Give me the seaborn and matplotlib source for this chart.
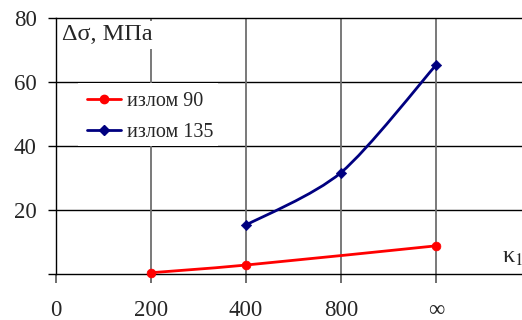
import numpy as np
import matplotlib
matplotlib.use("Agg")
import matplotlib.pyplot as plt
from matplotlib.path import Path
from matplotlib.patches import PathPatch, Rectangle
from matplotlib.lines import Line2D
import seaborn as sns

# x categories (equally spaced) and the two series
categories = ["0", "200", "400", "800", "\u221e"]
bend90_k = ["200", "400", "\u221e"]
bend90_ds = [0.4, 2.8, 8.8]
bend135_k = ["400", "800", "\u221e"]
bend135_ds = [15.3, 31.7, 65.3]
y_ticks = [0, 20, 40, 60, 80]
y_ticklabels = ["", "20", "40", "60", "80"]

sns.set_theme(style="white")
plt.rcParams["font.family"] = ["Liberation Serif", "DejaVu Serif"]
plt.rcParams["mathtext.fontset"] = "stix"

W, H = 522, 320
fig = plt.figure(figsize=(W / 100, H / 100), dpi=100)
ax = fig.add_axes([56 / W, 46 / H, 466 / W, 256 / H])
ax.set_xlim(0, 466 / 95)
ax.set_ylim(0, 80)

# grid: black horizontal, grey vertical
for y in y_ticks[1:-1]:
    ax.axhline(y, color="black", lw=1.0, zorder=1)
for i in range(1, len(categories)):
    ax.axvline(i, color="#6e6e6e", lw=1.3, zorder=1)

for side in ["left", "top", "bottom"]:
    ax.spines[side].set_color("black")
    ax.spines[side].set_linewidth(1.0)
ax.spines["right"].set_visible(False)

ax.set_xticks(range(len(categories)))
ax.set_xticklabels(categories)
ax.set_yticks(y_ticks)
ax.set_yticklabels(y_ticklabels)
ax.tick_params(axis="x", direction="out", length=6.5, width=1.2, color="#555555",
               pad=12, labelsize=16.5, bottom=True)
ax.tick_params(axis="y", direction="out", length=5.8, width=1.0, color="black",
               pad=8, labelsize=16.5, left=True)


def smooth_path(xs, ys, tension=6.0):
    pts = np.column_stack([xs, ys]).astype(float)
    n = len(pts)
    verts = [pts[0]]
    codes = [Path.MOVETO]
    for i in range(n - 1):
        p0 = pts[max(i - 1, 0)]
        p1 = pts[i]
        p2 = pts[i + 1]
        p3 = pts[min(i + 2, n - 1)]
        verts += [p1 + (p2 - p0) / tension, p2 - (p3 - p1) / tension, p2]
        codes += [Path.CURVE4] * 3
    return Path(verts, codes)


series = [
    (bend90_k, bend90_ds, "#ff0000", "o", "\u0438\u0437\u043b\u043e\u043c 90"),
    (bend135_k, bend135_ds, "#000080", "D", "\u0438\u0437\u043b\u043e\u043c 135"),
]
handles = []
for ks, vals, color, marker, label in series:
    xs = [categories.index(k) for k in ks]
    ax.add_patch(PathPatch(smooth_path(xs, vals, 7.0), facecolor="none",
                           edgecolor=color, lw=2.0, zorder=3))
    sns.scatterplot(x=xs, y=vals, ax=ax, color=color, marker=marker,
                    s=40 if marker == "o" else 28, edgecolor=color, zorder=4,
                    legend=False, clip_on=False)
    handles.append(Line2D([], [], color=color, lw=2.0, marker=marker,
                          markersize=6 if marker == "o" else 5, label=label))

# white legend area, sitting between the 40 and 60 grid lines
ax.add_patch(Rectangle((78 / W, 1 - 146 / H), 140 / W, 63 / H,
                       transform=fig.transFigure, facecolor="white",
                       edgecolor="none", zorder=2, clip_on=False))
leg = ax.legend(handles=handles, loc="upper left",
                bbox_to_anchor=(80 / W, 1 - 85 / H), bbox_transform=fig.transFigure,
                fontsize=14.5, frameon=False, handlelength=1.7,
                handletextpad=0.3, labelspacing=0.6, borderpad=0.35,
                borderaxespad=0)
leg.set_zorder(5)

fig.text(62 / W, 1 - 35 / H, "\u0394\u03c3, \u041c\u041f\u0430", fontsize=17.5,
         ha="left", va="center", zorder=6,
         bbox=dict(facecolor="white", edgecolor="none", pad=2.5))
fig.text(502 / W, 1 - 257 / H, "\u03ba$_1$", fontsize=17.5, ha="left",
         va="center")

fig.savefig("out.png", dpi=100)
